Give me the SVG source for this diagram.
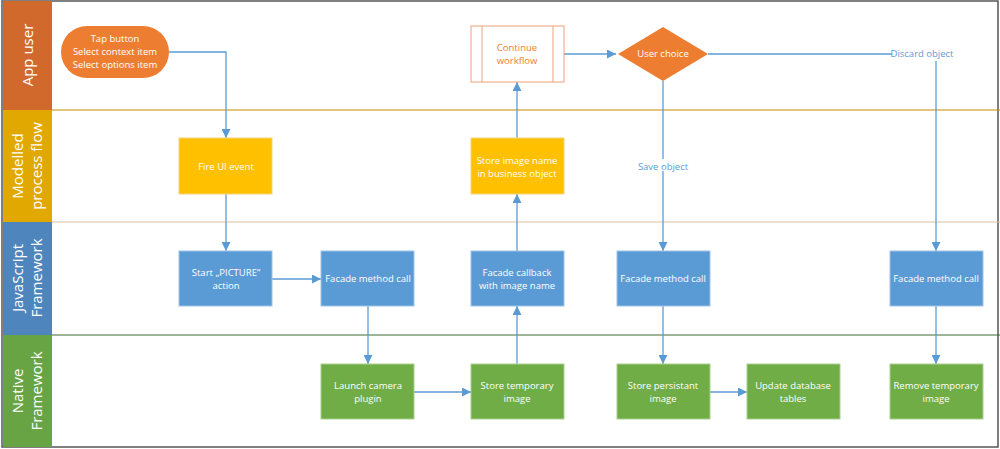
<svg xmlns="http://www.w3.org/2000/svg" width="1000" height="449" viewBox="0 0 1000 449">
<defs>
<marker id="ah" viewBox="0 0 10 10" refX="10" refY="5" markerWidth="9" markerHeight="9" markerUnits="userSpaceOnUse" orient="auto"><path d="M0,0 L10,5 L0,10 z" fill="#5B9BD5"/></marker>
<style>
text{font-family:"Open Sans","Liberation Sans",sans-serif;font-size:9.5px;fill:#fff;text-anchor:middle}
.hd{font-size:15px}
.c{fill:none;stroke:#5B9BD5;stroke-width:1.3;marker-end:url(#ah)}
.cn{fill:none;stroke:#5B9BD5;stroke-width:1.3}
.lb{fill:#5B9BD5}
.y{fill:#FFC000;stroke:#F2D37A;stroke-width:1}
.b{fill:#5B9BD5;stroke:#9DC3E6;stroke-width:1}
.g{fill:#70AD47;stroke:#A9D18E;stroke-width:1}
</style>
</defs>
<rect x="0" y="0" width="1000" height="449" fill="#fff"/>
<g id="lanes">
<rect x="2" y="1" width="996" height="446" fill="none" stroke="#555" stroke-width="1.5"/>
<rect x="3" y="1" width="49" height="109" fill="#D0692B"/>
<rect x="3" y="110" width="49" height="112" fill="#E0A800"/>
<rect x="3" y="222" width="49" height="113" fill="#4E85BD"/>
<rect x="3" y="335" width="49" height="112" fill="#68A444"/>
<line x1="52" y1="110" x2="1000" y2="110" stroke="#C88A00" stroke-width="1"/>
<line x1="52" y1="222" x2="1000" y2="222" stroke="#D9BFA0" stroke-width="1"/>
<line x1="52" y1="335" x2="1000" y2="335" stroke="#3E6B34" stroke-width="1"/>
<text class="hd" transform="translate(33,55) rotate(-90)">App user</text>
<text class="hd" transform="translate(23,166) rotate(-90)">Modelled</text>
<text class="hd" transform="translate(42,166) rotate(-90)">process flow</text>
<text class="hd" transform="translate(23,278) rotate(-90)">JavaScript</text>
<text class="hd" transform="translate(42,278) rotate(-90)">Framework</text>
<text class="hd" transform="translate(23,391) rotate(-90)">Native</text>
<text class="hd" transform="translate(42,391) rotate(-90)">Framework</text>
</g>
<g id="connectors">
<path class="c" d="M169,52 H226 V138"/>
<path class="c" d="M226,194 V251"/>
<path class="c" d="M272,279 H321"/>
<path class="c" d="M368,306 V364"/>
<path class="c" d="M414,392 H471"/>
<path class="c" d="M517,364 V306"/>
<path class="c" d="M517,251 V194"/>
<path class="c" d="M517,138 V82"/>
<path class="c" d="M564,54 H616"/>
<path class="c" d="M663,81 V251"/>
<path class="c" d="M663,306 V364"/>
<path class="c" d="M710,392 H747"/>
<path class="cn" d="M708,54 H892"/>
<path class="c" d="M936,61 V251"/>
<path class="c" d="M936,306 V364"/>
<rect x="638" y="159" width="50" height="12" fill="#fff"/>
<text class="lb" x="663" y="170">Save object</text>
<text class="lb" x="922" y="57">Discard object</text>
</g>
<g id="n-tap"><rect x="61" y="26" width="108" height="52" rx="26" fill="#ED7D31"/><text x="115" y="42">Tap button</text><text x="115" y="55">Select context item</text><text x="115" y="68">Select options item</text></g>
<g id="n-continue"><rect x="471" y="26" width="93" height="56" fill="#fff" stroke="#F0A07A"/><line x1="482" y1="26" x2="482" y2="82" stroke="#F0A07A"/><line x1="553" y1="26" x2="553" y2="82" stroke="#F0A07A"/><text x="517" y="51" style="fill:#ED7D31">Continue</text><text x="517" y="64" style="fill:#ED7D31">workflow</text></g>
<g id="n-choice"><polygon points="663,27 708,54 663,81 618,54" fill="#ED7D31"/><text x="663" y="57">User choice</text></g>
<g id="n-fire"><rect class="y" x="179" y="138" width="93" height="56"/><text x="226" y="170">Fire UI event</text></g>
<g id="n-storename"><rect class="y" x="471" y="138" width="93" height="56"/><text x="517" y="164">Store image name</text><text x="517" y="177">in business object</text></g>
<g id="n-start"><rect class="b" x="179" y="251" width="93" height="55"/><text x="226" y="276">Start „PICTURE“</text><text x="226" y="289">action</text></g>
<g id="n-facade1"><rect class="b" x="321" y="251" width="93" height="55"/><text x="368" y="282">Facade method call</text></g>
<g id="n-callback"><rect class="b" x="471" y="251" width="93" height="55"/><text x="517" y="276">Facade callback</text><text x="517" y="289">with image name</text></g>
<g id="n-facade2"><rect class="b" x="617" y="251" width="93" height="55"/><text x="663" y="282">Facade method call</text></g>
<g id="n-facade3"><rect class="b" x="890" y="251" width="93" height="55"/><text x="936" y="282">Facade method call</text></g>
<g id="n-launch"><rect class="g" x="321" y="364" width="93" height="55"/><text x="368" y="389">Launch camera</text><text x="368" y="402">plugin</text></g>
<g id="n-storetemp"><rect class="g" x="471" y="364" width="93" height="55"/><text x="517" y="389">Store temporary</text><text x="517" y="402">image</text></g>
<g id="n-storepers"><rect class="g" x="617" y="364" width="93" height="55"/><text x="663" y="389">Store persistant</text><text x="663" y="402">image</text></g>
<g id="n-update"><rect class="g" x="747" y="364" width="93" height="55"/><text x="793" y="389">Update database</text><text x="793" y="402">tables</text></g>
<g id="n-remove"><rect class="g" x="890" y="364" width="93" height="55"/><text x="936" y="389">Remove temporary</text><text x="936" y="402">image</text></g>
</svg>
